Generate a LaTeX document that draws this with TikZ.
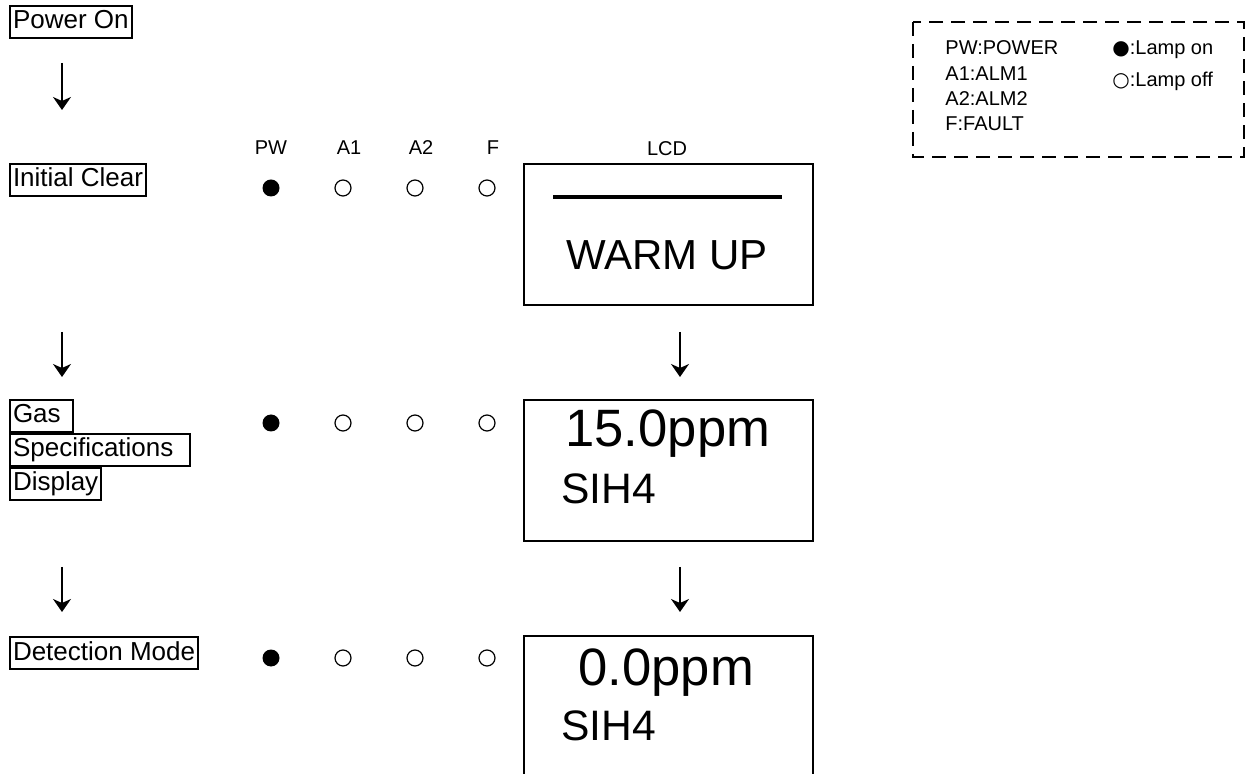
\documentclass[tikz,border=0pt]{standalone}
\usepackage{fontspec}
\setmainfont{Liberation Sans}
\newfontfamily\symfont{DejaVu Sans}
\usetikzlibrary{arrows.meta}

\begin{document}
\begin{tikzpicture}[x=0.5pt, y=-0.5pt, >={Stealth[length=6.5pt,width=9pt,inset=2pt]},
    stepbox/.style={draw, line width=1pt, anchor=north west, inner xsep=1.5pt, inner ysep=1pt,
      text height=10.5pt, text depth=3.5pt, font=\fontsize{13}{15}\selectfont},
    lcd/.style={draw, line width=1pt, anchor=north west, minimum width=144.5pt,
      minimum height=70.5pt, inner sep=0pt},
    hdr/.style={anchor=base, inner sep=0pt, font=\fontsize{10}{12}\selectfont},
    leg/.style={anchor=base west, inner sep=0pt, font=\fontsize{10}{12}\selectfont},
    big/.style={anchor=base west, inner sep=0pt, font=\fontsize{26.3}{30}\selectfont},
    mid/.style={anchor=base west, inner sep=0pt, font=\fontsize{21.3}{25}\selectfont},
    lampon/.style={circle, fill, minimum size=8.5pt, inner sep=0pt},
    lampoff/.style={circle, draw, line width=0.6pt, minimum size=8pt, inner sep=0pt},
    flow/.style={->, line width=0.75pt}]
    \useasboundingbox (0,0) rectangle (1247,774);
    \clip (0,0) rectangle (1247,774);

    % steps on the left
    \node[stepbox] (pon) at (9,5) {Power On};
    \node[stepbox] (iclr) at (9,163) {Initial Clear};
    \node[stepbox] (gas) at (9,399) {Gas\hspace*{4.5pt}};
    \node[stepbox] (spec) at (9,433) {Specifications\hspace*{7pt}};
    \node[stepbox] (disp) at (9,467) {Display};
    \node[stepbox] (det) at (9,636) {Detection Mode};

    % arrows
    \coordinate (a1s) at (62,63);  \coordinate (a1e) at (62,110);
    \coordinate (a2s) at (62,332); \coordinate (a2e) at (62,377);
    \coordinate (a3s) at (62,567); \coordinate (a3e) at (62,612);
    \coordinate (b1s) at (680,332); \coordinate (b1e) at (680,377);
    \coordinate (b2s) at (680,567); \coordinate (b2e) at (680,612);
    \draw[flow] (a1s) -- (a1e);
    \draw[flow] (a2s) -- (a2e);
    \draw[flow] (a3s) -- (a3e);
    \draw[flow] (b1s) -- (b1e);
    \draw[flow] (b2s) -- (b2e);

    % lamp headers
    \node[hdr] (hpw) at (271,155) {PW};
    \node[hdr] (ha1) at (349,155) {A1};
    \node[hdr] (ha2) at (421,155) {A2};
    \node[hdr] (hf) at (493,155) {F};
    \node[hdr] (hlcd) at (667,156) {LCD};

    % lamps
    \foreach \r/\y in {1/188,2/423,3/658} {
      \node[lampon] (pw\r) at (271,\y) {};
      \node[lampoff] (al\r) at (343,\y) {};
      \node[lampoff] (am\r) at (415,\y) {};
      \node[lampoff] (fl\r) at (487,\y) {};
    }

    % LCD screens
    \node[lcd] (lcd1) at (523,163) {};
    \node[lcd] (lcd2) at (523,399) {};
    \node[lcd, minimum height=90pt] (lcd3) at (523,635) {};
    \draw[line width=2pt] (553,197) -- (782,197);
    \node[anchor=base, inner sep=0pt, font=\fontsize{21}{25}\selectfont] (warm) at (667,270) {WARM UP};
    \node[big] (val2) at (565,447) {15.0ppm};
    \node[mid] (gas2) at (561,504) {SIH4};
    \node[big] (val3) at (578,685) {0.0ppm};
    \node[mid] (gas3) at (561,740) {SIH4};

    % legend
    \draw[line width=1pt, dash pattern=on 7pt off 4pt] (913,22) rectangle (1244,157);
    \node[leg] (lpw) at (945,55) {PW:POWER};
    \node[leg] (la1) at (945,81) {A1:ALM1};
    \node[leg] (la2) at (945,106) {A2:ALM2};
    \node[leg] (lf) at (945,131) {F:FAULT};
    \node[leg] (lon) at (1112,55) {{\symfont\fontsize{10}{12}\selectfont ●}:Lamp on};
    \node[leg] (loff) at (1112,87) {{\symfont\fontsize{10}{12}\selectfont ○}:Lamp off};
\end{tikzpicture}
\end{document}
